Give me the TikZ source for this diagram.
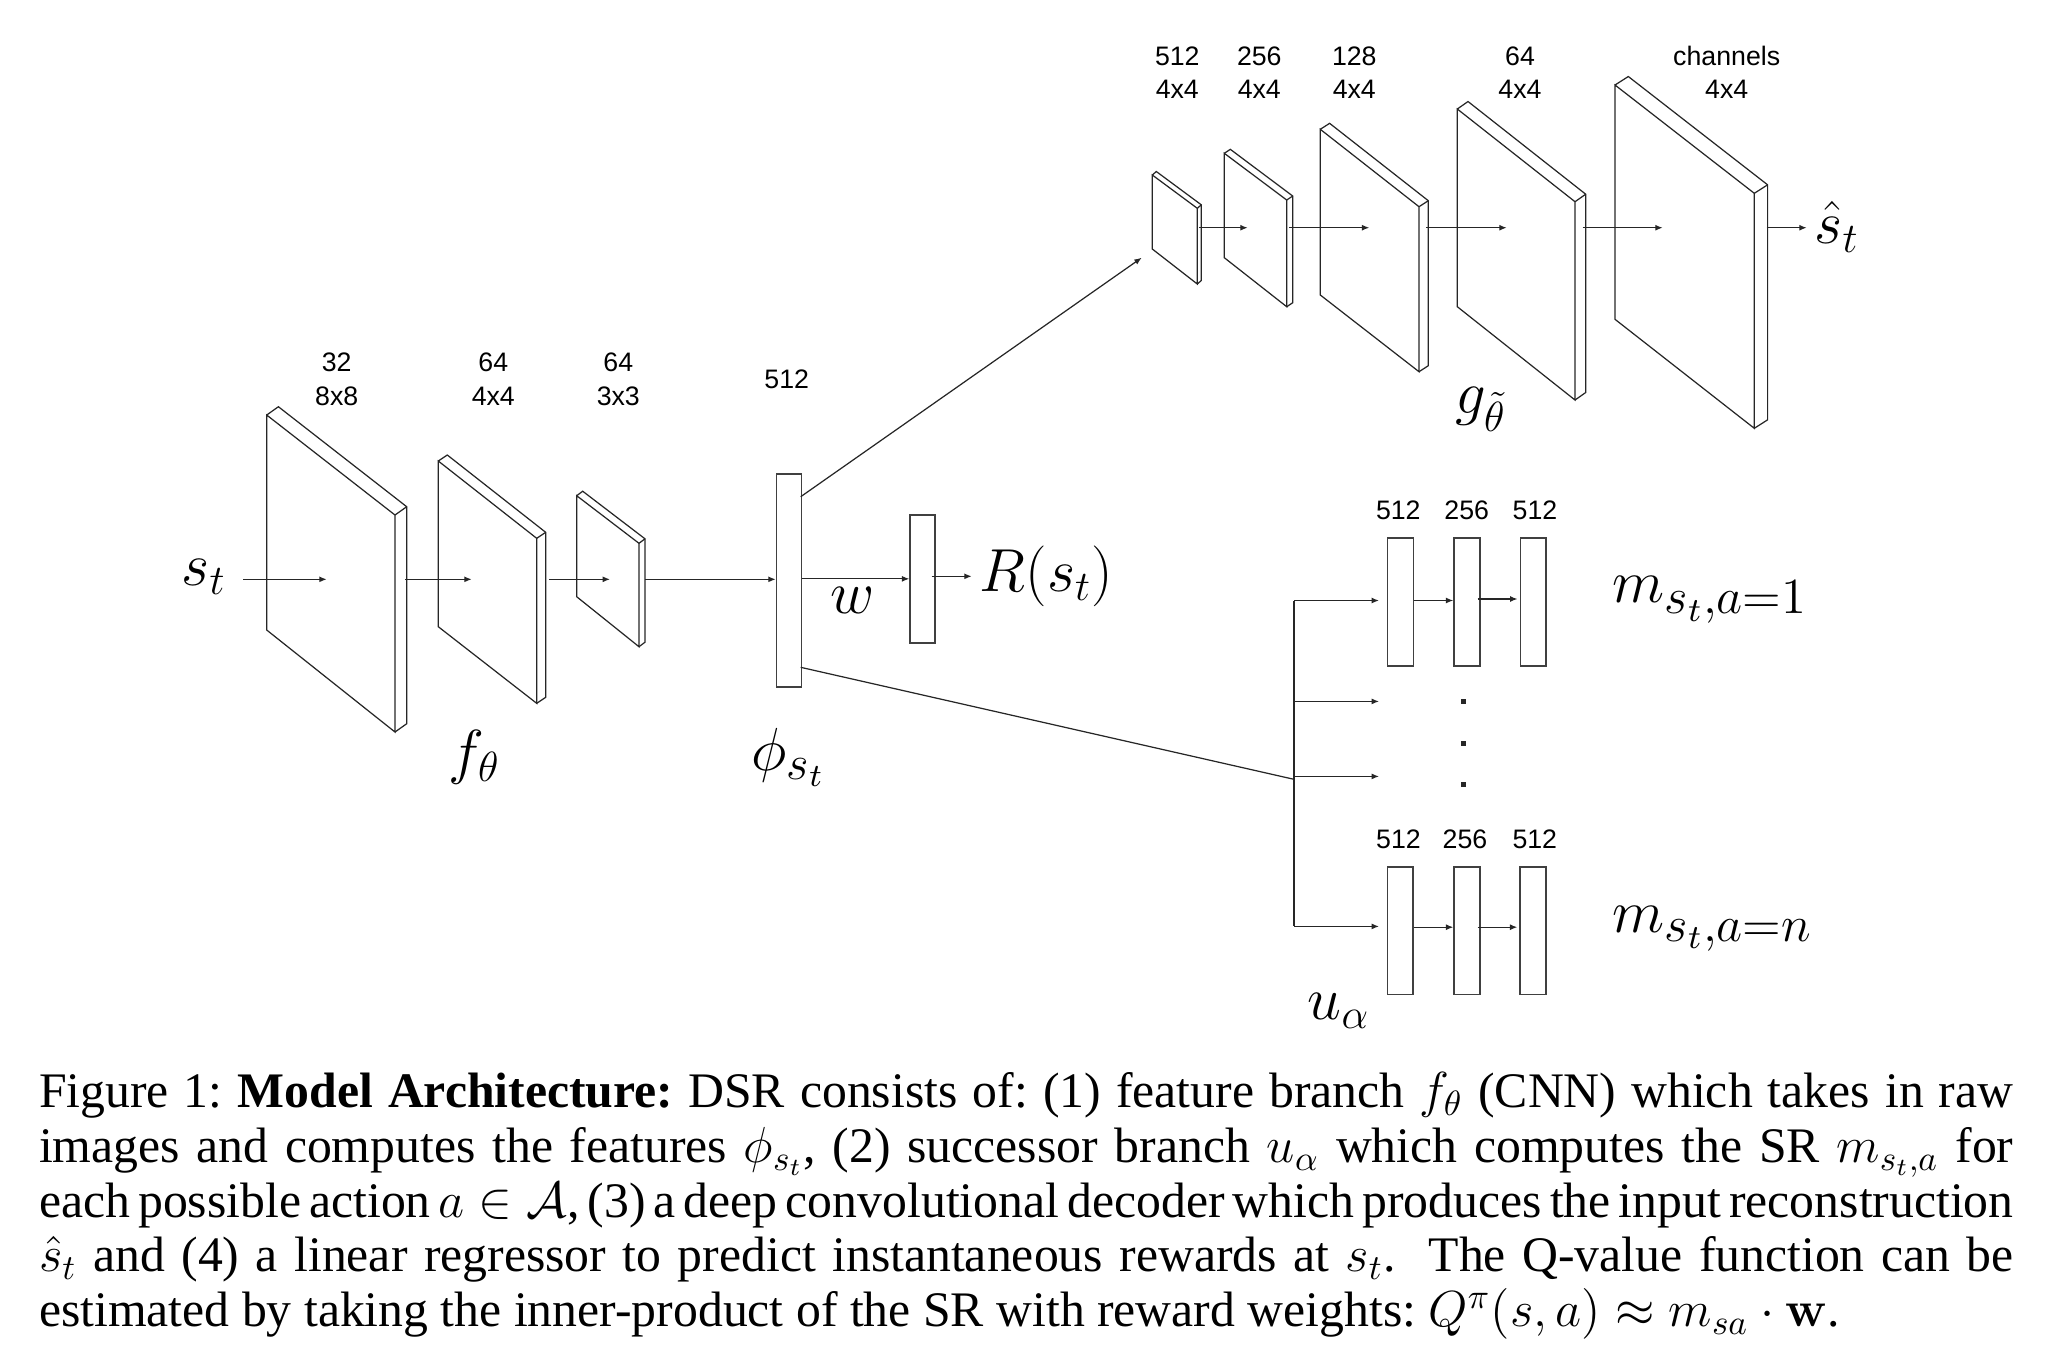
\documentclass[tikz,border=0pt]{standalone}
\usepackage[no-math]{fontspec}
\setmainfont{Liberation Serif}
\newfontfamily\labfont{Liberation Sans}
\usetikzlibrary{arrows.meta}
% slab: x1 yt1 yb1 x2 yt2 yb2 dx dy
\newcommand\slabbox[8]{%
  \draw[ln] (#1,#2) -- (#4,#5) -- (#4,#6) -- (#1,#3) -- cycle;
  \draw[ln] (#1,#2) -- ({#1+#7},{#2+#8}) -- ({#4+#7},{#5+#8}) -- ({#4+#7},{#6+#8}) -- (#4,#6);
  \draw[ln] (#4,#5) -- ({#4+#7},{#5+#8});
}
% two-line label: name x y1 y2 text1 text2
\newcommand\twolab[6]{%
  \node[lab] (#1a) at (#2,#3) {#5};
  \node[lab] (#1b) at (#2,#4) {#6};
}
\newcommand\capline[1]{\hbox to 19.734cm{#1}\par}
\newcommand\bigsub[2]{\scalebox{#1}{$\scriptstyle #2$}}
\begin{document}
\begin{tikzpicture}[x=0.01cm,y=-0.01cm,
  ln/.style={line width=0.35pt, draw=black!85},
  arr/.style={ln, -{Latex[length=2.1pt,width=1.7pt]}},
  lab/.style={font=\labfont\fontsize{7.6}{9}\selectfont, inner sep=0, anchor=base},
  mth/.style={font=\fontsize{16.5}{20}\selectfont, inner sep=0, anchor=base west},
  bar/.style={draw=black!75, line width=0.45pt, minimum width=0.258cm, minimum height=1.277cm, inner sep=0, anchor=north west},
]
\useasboundingbox (0,0) rectangle (2072,1356);

% ---------- encoder slabs ----------
\slabbox{266.7}{415}{630}{395}{515}{732}{11.7}{-8.3}
\slabbox{438.3}{461}{626.7}{536.7}{538.3}{703.3}{9}{-6}
\slabbox{576.7}{495.7}{596.7}{639}{543.3}{646.7}{6}{-4.5}

% ---------- decoder slabs ----------
\slabbox{1152.3}{175}{249}{1197.3}{208.3}{284}{4}{-3.5}
\slabbox{1224.3}{153.3}{257.7}{1286.7}{200}{306.7}{6}{-4}
\slabbox{1320.3}{129.3}{295}{1419}{206.7}{371.7}{9.3}{-6}
\slabbox{1457.3}{109}{306.7}{1575}{201.7}{400}{10.7}{-7.5}
\slabbox{1615}{85}{319.3}{1754.3}{193.3}{428.3}{13.3}{-8.5}

% ---------- bars ----------
\node[bar, minimum width=0.25cm, minimum height=2.127cm] (phi) at (775.7,473.3) {};
\node[bar, minimum width=0.25cm, minimum height=1.28cm] (rb) at (909.3,514) {};
\node[bar] (t1) at (1386.7,537.3) {};
\node[bar] (t2) at (1453.3,537.3) {};
\node[bar] (t3) at (1519.5,537.3) {};
\node[bar] (b1) at (1386.5,866) {};
\node[bar] (b2) at (1453.3,866) {};
\node[bar] (b3) at (1519.3,866) {};

% ---------- coordinates ----------
\coordinate (e0s) at (243.3,579.3);  \coordinate (e0e) at (326.7,579.3);
\coordinate (e1s) at (405,579.3);    \coordinate (e1e) at (471.7,579.3);
\coordinate (e2s) at (549.3,579.3);  \coordinate (e2e) at (610,579.3);
\coordinate (e3s) at (645,579.3);
\coordinate (rout) at (931.7,576.3); \coordinate (rend) at (971.7,576.3);
\coordinate (d0s) at (1199,227.7);   \coordinate (d0e) at (1247.7,227.7);
\coordinate (d1s) at (1289.3,227.7); \coordinate (d1e) at (1369.3,227.7);
\coordinate (d2s) at (1426,227.7);   \coordinate (d2e) at (1506.7,227.7);
\coordinate (d3s) at (1582.7,227.7); \coordinate (d3e) at (1662.7,227.7);
\coordinate (d4s) at (1766.7,227.7); \coordinate (d4e) at (1806.7,227.7);
\coordinate (phiU) at (800.7,496.7); \coordinate (decin) at (1141.7,257.7);
\coordinate (phiL) at (800.7,667.3); \coordinate (jl) at (1294,779.3);
\coordinate (j1) at (1294,600.5);  \coordinate (k1) at (1379,600.5);
\coordinate (j2) at (1294,701.4);  \coordinate (k2) at (1379,701.4);
\coordinate (j3) at (1294,776.4);  \coordinate (k3) at (1379,776.4);
\coordinate (j4) at (1294,926.4);  \coordinate (k4) at (1379,926.4);

% ---------- connectors ----------
\draw[arr] (e0s) -- (e0e);
\draw[arr] (e1s) -- (e1e);
\draw[arr] (e2s) -- (e2e);
\draw[arr] (e3s) -- (e3s -| phi.west);
\draw[arr] (rb.west -| phi.east) -- (rb.west);
\draw[arr] (rout) -- (rend);
\draw[arr] (phiU) -- (decin);
\draw[ln] (phiL) -- (jl);
\draw[arr] (d0s) -- (d0e);
\draw[arr] (d1s) -- (d1e);
\draw[arr] (d2s) -- (d2e);
\draw[arr] (d3s) -- (d3e);
\draw[arr] (d4s) -- (d4e);
\draw[ln] (j1) -- (j4);
\draw[arr] (j1) -- (k1);
\draw[arr] (j2) -- (k2);
\draw[arr] (j3) -- (k3);
\draw[arr] (j4) -- (k4);
\draw[arr] ([yshift=0.015cm]t1.east) -- ([yshift=0.015cm]t2.west);
\draw[arr] ([yshift=0.03cm,xshift=-0.03cm]t2.east) -- ([yshift=0.03cm,xshift=-0.02cm]t3.west);
\draw[arr] ([yshift=0.035cm]b1.east) -- ([yshift=0.035cm]b2.west);
\draw[arr] ([yshift=0.035cm,xshift=-0.03cm]b2.east) -- ([yshift=0.035cm,xshift=-0.02cm]b3.west);

% dots
\fill[black!85] (1461.1,698.9) rectangle ++(5,5);
\fill[black!85] (1461.1,740.7) rectangle ++(5,5);
\fill[black!85] (1461.1,782.1) rectangle ++(5,5);

% ---------- small sans labels ----------
\twolab{l1}{336.7}{371.7}{405}{32}{8x8}
\twolab{l2}{493.3}{371.7}{405}{64}{4x4}
\twolab{l3}{618.3}{371.7}{405}{64}{3x3}
\node[lab] (l4) at (786.7,388.3) {512};
\twolab{u1}{1177.3}{65}{98.3}{512}{4x4}
\twolab{u2}{1259.3}{65}{98.3}{256}{4x4}
\twolab{u3}{1354.3}{65}{98.3}{128}{4x4}
\twolab{u4}{1520}{65}{98.3}{64}{4x4}
\twolab{u5}{1726.7}{65}{98.3}{channels}{4x4}
\node[lab] (p1) at (1398.3,519.3) {512};
\node[lab] (p2) at (1466.7,519.3) {256};
\node[lab] (p3) at (1535,519.3) {512};
\node[lab] (q1) at (1398.5,848.6) {512};
\node[lab] (q2) at (1465,848.6) {256};
\node[lab] (q3) at (1534.8,848.6) {512};

% ---------- math labels ----------
\node[mth] (st) at (181,585) {$s_t$};
\node[mth] (ft) at (448,772) {$f_\theta$};
\node[mth] (ph) at (751,770) {$\phi_{\bigsub{1.15}{s_t}}$};
\node[mth] (wl) at (830,613) {$w$};
\node[mth] (rl) at (979,591) {$R(s_t)$};
\node[mth] (sh) at (1814,243) {$\hat{s}_t$};
\node[mth] (gl) at (1455,413) {$g_{\tilde{\theta}}$};
\node[mth] (m1) at (1612,602) {$m_{\bigsub{1.2}{s_t,a=1}}$};
\node[mth] (mn) at (1612,932) {$m_{\bigsub{1.2}{s_t,a=n}}$};
\node[mth] (ua) at (1307,1019) {$u_\alpha$};

% ---------- caption ----------
\node[anchor=north west, inner sep=0, text width=19.734cm,
      font=\fontsize{14.14}{15.55}\selectfont] (cap) at (38.3,1072)
{\frenchspacing\spaceskip=.25em plus .3em minus .12em\relax
\capline{Figure 1: \textbf{Model Architecture:} DSR consists of: (1) feature branch $f_\theta$ (CNN) which takes in raw}
\capline{images and computes the features $\phi_{s_t}$, (2) successor branch $u_\alpha$ which computes the SR $m_{s_t,a}$ for}
\capline{each possible action $a\in\mathcal{A}$, (3) a deep convolutional decoder which produces the input reconstruction}
\capline{$\hat{s}_t$ and (4) a linear regressor to predict instantaneous rewards at $s_t$.\ \ The Q-value function can be}
\hbox{estimated by taking the inner-product of the SR with reward weights: $Q^\pi(s,a)\approx m_{sa}\cdot\mathbf{w}$.}\par};
\end{tikzpicture}
\end{document}
